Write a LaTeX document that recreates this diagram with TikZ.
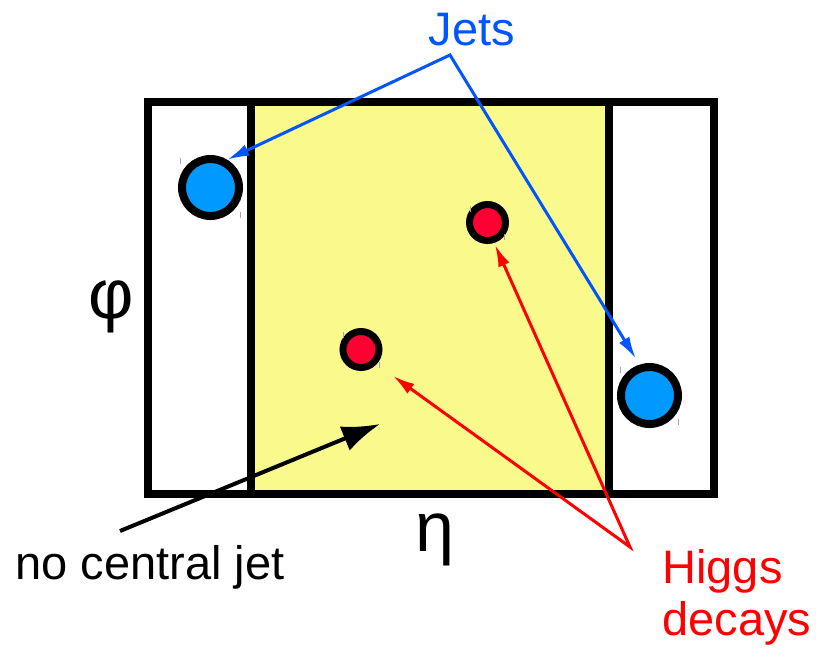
\documentclass[tikz,border=0pt]{standalone}
\usepackage{fontspec}
\setmainfont{Liberation Sans}
\usetikzlibrary{arrows.meta,positioning,calc}
\definecolor{jetblue}{RGB}{0,153,255}
\definecolor{arrowblue}{RGB}{0,85,255}
\definecolor{higgsred}{RGB}{255,0,51}
\definecolor{labelred}{RGB}{255,0,0}
\definecolor{calyellow}{RGB}{250,250,140}

\begin{document}
\begin{tikzpicture}[x=0.5pt, y=-0.5pt,
    jet/.style={circle, draw, line width=4pt, fill=jetblue, minimum size=28.5pt, inner sep=0pt},
    higgs/.style={circle, draw, line width=3.5pt, fill=higgsred, minimum size=18pt, inner sep=0pt},
    txt/.style={font=\fontsize{23.5}{26}\selectfont, inner sep=0pt},
    greek/.style={font=\fontsize{35}{37}\selectfont, inner sep=0pt},
    jetarrow/.style={{Latex[length=11pt,width=6pt]}-{Latex[length=11pt,width=6pt]}, arrowblue, line width=1.5pt},
    higgsarrow/.style={{Latex[length=11pt,width=6pt]}-{Latex[length=11pt,width=6pt]}, labelred, line width=1.5pt},
    pointer/.style={-{Latex[length=19pt,width=13pt]}, line width=2pt},
    handle/.style={gray!70, line width=0.5pt}
]
\useasboundingbox (0,0) rectangle (816,650);

% Eta-phi plane, central region in yellow
\filldraw[fill=calyellow, line width=4pt] (251,101.5) rectangle (609,494);
\draw[line width=4pt] (147.5,101.5) rectangle (714,494);

% Forward jets
\node[jet] (jetL) at (210.5,187.5) {};
\node[jet] (jetR) at (649.5,395.5) {};

% Higgs decay products
\node[higgs] (higgsA) at (487.5,222.5) {};
\node[higgs] (higgsB) at (361,349.5) {};

% selection handles
\foreach \c/\d in {jetL/30, jetR/29, higgsA/17, higgsB/18}{
  \draw[handle] ($(\c)+(-\d,-\d)$) -- ++(0,6);
  \draw[handle] ($(\c)+(\d,\d)$) -- ++(0,-6);
}

% Axes
\node[greek] (phi) at (111,307) {φ};
\node[greek] (eta) at (435,540) {η};

% Labels
\node[txt, text=arrowblue, anchor=base] (jets) at (472,45) {Jets};
\node[txt, anchor=base west] (nocentral) at (15,579) {no central jet};
\node[txt, text=labelred, align=left, anchor=base west] (higgslbl) at (662,635) {Higgs\\decays};

\coordinate (jetsfoot) at (450,55);
\coordinate (higgsfoot) at (630,547);
\coordinate (nojetfoot) at (120,531);
\coordinate (centre) at (380,424);

\draw[jetarrow, shorten >=3.5pt] (jetL.59) -- (jetsfoot) -- (jetR.108);
\draw[higgsarrow, shorten <=1pt, shorten >=10pt] (higgsA.288) -- (higgsfoot) -- (higgsB.317);
\draw[pointer] (nojetfoot) -- (centre);

\end{tikzpicture}
\end{document}
